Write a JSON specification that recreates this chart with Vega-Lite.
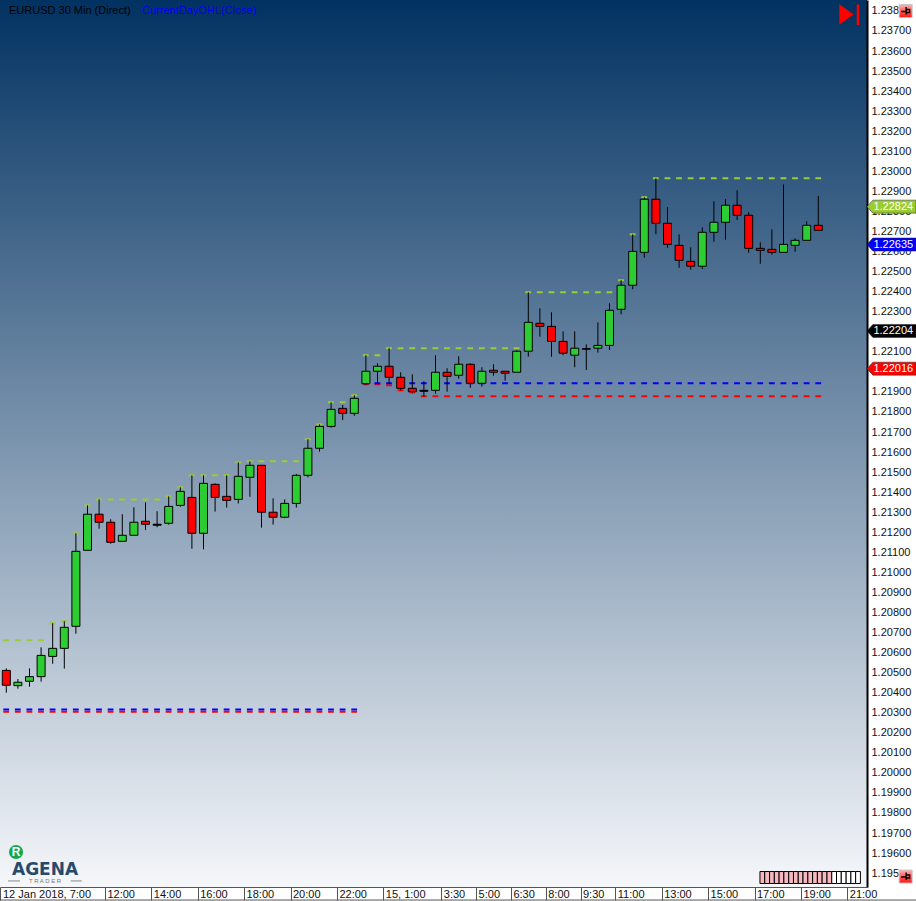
{
"$schema":"https://vega.github.io/schema/vega-lite/v6.json",
"width":867,"height":887,
"autosize":{"type":"none"},
"padding":{"left":0,"top":0,"right":49,"bottom":14},
"background":"#ffffff",
"view":{"stroke":null,"fill":{"gradient":"linear","x1":0,"y1":0,"x2":0,"y2":1,"stops":[{"offset":0,"color":"#023262"},{"offset":1,"color":"#f5f7fa"}]}},
"config":{"font":"Liberation Sans"},
"datasets":{
"candles":[
{"i":0,"o":1.20511,"h":1.20521,"l":1.20400,"c":1.20437},
{"i":1,"o":1.20435,"h":1.20468,"l":1.20420,"c":1.20452},
{"i":2,"o":1.20457,"h":1.20521,"l":1.20430,"c":1.20480},
{"i":3,"o":1.20480,"h":1.20626,"l":1.20455,"c":1.20586},
{"i":4,"o":1.20581,"h":1.20746,"l":1.20544,"c":1.20621},
{"i":5,"o":1.20621,"h":1.20756,"l":1.20520,"c":1.20726},
{"i":6,"o":1.20731,"h":1.21195,"l":1.20694,"c":1.21105},
{"i":7,"o":1.21110,"h":1.21334,"l":1.21110,"c":1.21290},
{"i":8,"o":1.21290,"h":1.21364,"l":1.21218,"c":1.21250},
{"i":9,"o":1.21250,"h":1.21265,"l":1.21143,"c":1.21150},
{"i":10,"o":1.21155,"h":1.21290,"l":1.21155,"c":1.21185},
{"i":11,"o":1.21185,"h":1.21324,"l":1.21185,"c":1.21250},
{"i":12,"o":1.21255,"h":1.21349,"l":1.21211,"c":1.21240},
{"i":13,"o":1.21240,"h":1.21305,"l":1.21225,"c":1.21235},
{"i":14,"o":1.21245,"h":1.21379,"l":1.21238,"c":1.21329},
{"i":15,"o":1.21334,"h":1.21424,"l":1.21327,"c":1.21404},
{"i":16,"o":1.21374,"h":1.21484,"l":1.21118,"c":1.21195},
{"i":17,"o":1.21195,"h":1.21484,"l":1.21115,"c":1.21444},
{"i":18,"o":1.21439,"h":1.21444,"l":1.21303,"c":1.21374},
{"i":19,"o":1.21379,"h":1.21484,"l":1.21323,"c":1.21359},
{"i":20,"o":1.21364,"h":1.21549,"l":1.21344,"c":1.21479},
{"i":21,"o":1.21474,"h":1.21554,"l":1.21377,"c":1.21534},
{"i":22,"o":1.21534,"h":1.21534,"l":1.21223,"c":1.21300},
{"i":23,"o":1.21300,"h":1.21369,"l":1.21238,"c":1.21275},
{"i":24,"o":1.21275,"h":1.21364,"l":1.21270,"c":1.21344},
{"i":25,"o":1.21344,"h":1.21491,"l":1.21323,"c":1.21484},
{"i":26,"o":1.21484,"h":1.21664,"l":1.21474,"c":1.21619},
{"i":27,"o":1.21619,"h":1.21738,"l":1.21602,"c":1.21728},
{"i":28,"o":1.21728,"h":1.21848,"l":1.21721,"c":1.21813},
{"i":29,"o":1.21818,"h":1.21835,"l":1.21760,"c":1.21793},
{"i":30,"o":1.21793,"h":1.21883,"l":1.21781,"c":1.21868},
{"i":31,"o":1.21941,"h":1.22083,"l":1.21936,"c":1.22003},
{"i":32,"o":1.22003,"h":1.22043,"l":1.21941,"c":1.22028},
{"i":33,"o":1.22028,"h":1.22118,"l":1.21939,"c":1.21973},
{"i":34,"o":1.21973,"h":1.21998,"l":1.21908,"c":1.21918},
{"i":35,"o":1.21918,"h":1.21988,"l":1.21893,"c":1.21901},
{"i":36,"o":1.21908,"h":1.21953,"l":1.21876,"c":1.21903},
{"i":37,"o":1.21908,"h":1.22083,"l":1.21891,"c":1.21998},
{"i":38,"o":1.21998,"h":1.22018,"l":1.21901,"c":1.21978},
{"i":39,"o":1.21983,"h":1.22078,"l":1.21966,"c":1.22038},
{"i":40,"o":1.22038,"h":1.22043,"l":1.21921,"c":1.21943},
{"i":41,"o":1.21943,"h":1.22023,"l":1.21926,"c":1.22003},
{"i":42,"o":1.22008,"h":1.22038,"l":1.21981,"c":1.21998},
{"i":43,"o":1.22003,"h":1.22003,"l":1.21956,"c":1.21993},
{"i":44,"o":1.21998,"h":1.22108,"l":1.21998,"c":1.22103},
{"i":45,"o":1.22103,"h":1.22397,"l":1.22076,"c":1.22247},
{"i":46,"o":1.22242,"h":1.22317,"l":1.22175,"c":1.22227},
{"i":47,"o":1.22227,"h":1.22297,"l":1.22076,"c":1.22152},
{"i":48,"o":1.22152,"h":1.22202,"l":1.22083,"c":1.22093},
{"i":49,"o":1.22083,"h":1.22202,"l":1.22023,"c":1.22118},
{"i":50,"o":1.22116,"h":1.22137,"l":1.22009,"c":1.22113},
{"i":51,"o":1.22118,"h":1.22247,"l":1.22096,"c":1.22132},
{"i":52,"o":1.22132,"h":1.22342,"l":1.22109,"c":1.22307},
{"i":53,"o":1.22312,"h":1.22457,"l":1.22287,"c":1.22432},
{"i":54,"o":1.22432,"h":1.22686,"l":1.22412,"c":1.22601},
{"i":55,"o":1.22596,"h":1.22871,"l":1.22569,"c":1.22861},
{"i":56,"o":1.22861,"h":1.22965,"l":1.22686,"c":1.22741},
{"i":57,"o":1.22741,"h":1.22821,"l":1.22619,"c":1.22636},
{"i":58,"o":1.22631,"h":1.22686,"l":1.22519,"c":1.22556},
{"i":59,"o":1.22551,"h":1.22621,"l":1.22510,"c":1.22527},
{"i":60,"o":1.22527,"h":1.22721,"l":1.22514,"c":1.22696},
{"i":61,"o":1.22696,"h":1.22851,"l":1.22649,"c":1.22746},
{"i":62,"o":1.22746,"h":1.22861,"l":1.22659,"c":1.22831},
{"i":63,"o":1.22831,"h":1.22906,"l":1.22757,"c":1.22781},
{"i":64,"o":1.22781,"h":1.22796,"l":1.22594,"c":1.22616},
{"i":65,"o":1.22616,"h":1.22646,"l":1.22539,"c":1.22606},
{"i":66,"o":1.22611,"h":1.22711,"l":1.22584,"c":1.22596},
{"i":67,"o":1.22596,"h":1.22935,"l":1.22596,"c":1.22636},
{"i":68,"o":1.22631,"h":1.22666,"l":1.22599,"c":1.22656},
{"i":69,"o":1.22656,"h":1.22751,"l":1.22656,"c":1.22731},
{"i":70,"o":1.22731,"h":1.22877,"l":1.22706,"c":1.22706}
],
"highs":[
{"from":0,"to":3,"level":1.20661},{"from":4,"to":4,"level":1.20746},{"from":5,"to":5,"level":1.20756},{"from":6,"to":6,"level":1.21195},{"from":7,"to":7,"level":1.21334},{"from":8,"to":13,"level":1.21364},{"from":14,"to":14,"level":1.21379},{"from":15,"to":15,"level":1.21424},{"from":16,"to":19,"level":1.21484},{"from":20,"to":20,"level":1.21549},{"from":21,"to":25,"level":1.21554},{"from":26,"to":26,"level":1.21664},{"from":27,"to":27,"level":1.21738},{"from":28,"to":29,"level":1.21848},{"from":30,"to":30,"level":1.21883},{"from":31,"to":32,"level":1.22083},{"from":33,"to":44,"level":1.22118},{"from":45,"to":52,"level":1.22397},{"from":53,"to":53,"level":1.22457},{"from":54,"to":54,"level":1.22686},{"from":55,"to":55,"level":1.22871},{"from":56,"to":70,"level":1.22965}
],
"opens":[{"from":0,"to":30,"level":1.20316},{"from":31,"to":70,"level":1.21943}],
"lows":[{"from":0,"to":30,"level":1.20305},{"from":31,"to":32,"level":1.21938},{"from":33,"to":33,"level":1.21933},{"from":34,"to":34,"level":1.21908},{"from":35,"to":35,"level":1.21898},{"from":36,"to":70,"level":1.21878}],
"tags":[{"price":1.22824,"kind":"high"},{"price":1.22635,"kind":"last"},{"price":1.22204,"kind":"bid"},{"price":1.22016,"kind":"low"}],
"pins":[{"p":1.237997},{"p":1.19483}],
"cells":[{"a":64.97,"b":65.38},{"a":65.38,"b":65.80},{"a":65.80,"b":66.21},{"a":66.21,"b":66.62},{"a":66.62,"b":67.03},{"a":67.03,"b":67.45},{"a":67.45,"b":67.86},{"a":67.86,"b":68.27},{"a":68.27,"b":68.68},{"a":68.68,"b":69.10},{"a":69.10,"b":69.51},{"a":69.51,"b":69.92},{"a":69.92,"b":70.33},{"a":70.33,"b":70.75},{"a":70.75,"b":71.16},{"a":71.16,"b":71.57},{"a":71.57,"b":71.98},{"a":71.98,"b":72.40},{"a":72.40,"b":72.81},{"a":72.81,"b":73.22},{"a":73.22,"b":73.63}]
},
"layer":[
{"data":{"name":"lows"},"mark":{"type":"rule","stroke":"#ff0000","strokeWidth":2,"strokeDash":[5.8,5.8],"xOffset":-3,"x2Offset":3},
 "encoding":{
 "x":{"field":"from","type":"quantitative","title":null,"scale":{"domain":[-0.5431,74.198],"nice":false,"zero":false,"padding":0},
  "axis":{"orient":"bottom","tickCount":40,"values":[-0.5,8.5,12.5,16.5,20.5,24.5,28.5,32.5,37.5,40.5,43.5,46.5,49.5,52.5,56.5,60.5,64.5,68.5,72.5],
   "labelExpr":"{'-0.5':'12 Jan 2018, 7:00','8.5':'12:00','12.5':'14:00','16.5':'16:00','20.5':'18:00','24.5':'20:00','28.5':'22:00','32.5':'15, 1:00','37.5':'3:30','40.5':'5:00','43.5':'6:30','46.5':'8:00','49.5':'9:30','52.5':'11:00','56.5':'13:00','60.5':'15:00','64.5':'17:00','68.5':'19:00','72.5':'21:00'}[''+datum.value]",
   "grid":false,"ticks":true,"tickSize":13,"tickColor":"#555555","tickWidth":1,"domain":true,"domainColor":"#555555","domainWidth":1,
   "labelAlign":"left","labelBaseline":"top","labelPadding":-12,"labelOffset":2,"labelFontSize":11,"labelColor":"#111111","labelFont":"Liberation Sans","labelOverlap":false,"labelFlush":false,"labelBound":false,"title":null}},
 "x2":{"field":"to"},
 "y":{"field":"level","type":"quantitative","title":null,"scale":{"domain":[1.194308,1.238546],"nice":false,"zero":false},
  "axis":{"orient":"right","tickCount":60,"values":[1.238,1.237,1.236,1.235,1.234,1.233,1.232,1.231,1.23,1.229,1.228,1.227,1.226,1.225,1.224,1.223,1.222,1.221,1.22,1.219,1.218,1.217,1.216,1.215,1.214,1.213,1.212,1.211,1.21,1.209,1.208,1.207,1.206,1.205,1.204,1.203,1.202,1.201,1.2,1.199,1.198,1.197,1.196,1.195],
   "labelExpr":"(datum.value>1.2379||datum.value<1.1951)?format(datum.value,'.3f'):format(datum.value,'.5f')",
   "grid":false,"ticks":false,"domain":true,"domainColor":"#000000","domainWidth":2,"labelPadding":4,"labelFontSize":11,"labelColor":"#111111","labelFont":"Liberation Sans","labelAlign":"left","labelOverlap":false,"labelFlush":false,"labelBound":false,"title":null}}
 }},
{"data":{"name":"opens"},"mark":{"type":"rule","stroke":"#0000ff","strokeWidth":2,"strokeDash":[5.8,5.8],"xOffset":-3,"x2Offset":3},
 "encoding":{"x":{"field":"from","type":"quantitative","title":null},"x2":{"field":"to"},"y":{"field":"level","type":"quantitative","title":null}}},
{"data":{"name":"highs"},"mark":{"type":"rule","stroke":"#9acd32","strokeWidth":2,"strokeDash":[5.8,5.8],"xOffset":-3,"x2Offset":3},
 "encoding":{"x":{"field":"from","type":"quantitative","title":null},"x2":{"field":"to"},"y":{"field":"level","type":"quantitative","title":null}}},
{"data":{"name":"candles"},"mark":{"type":"rule","stroke":"#000000","strokeWidth":1},
 "encoding":{"x":{"field":"i","type":"quantitative","title":null},"y":{"field":"h","type":"quantitative","title":null},"y2":{"field":"l"}}},
{"data":{"name":"candles"},"mark":{"type":"bar","size":8,"orient":"vertical","stroke":"#000000","strokeWidth":1},
 "encoding":{"x":{"field":"i","type":"quantitative","title":null},"y":{"field":"o","type":"quantitative","title":null},"y2":{"field":"c"},
 "fill":{"condition":[{"test":"abs(datum.c-datum.o)<0.00007","value":"#000000"},{"test":"datum.c>datum.o","value":"#2ecc33"}],"value":"#ff0000"}}},
{"data":{"name":"tags"},"mark":{"type":"point","filled":true,"opacity":1,"size":2401,"shape":"M-1 0L-0.76 -0.265L1 -0.265L1 0.265L-0.76 0.265Z","stroke":"#222222","strokeWidth":0.5},
 "encoding":{"x":{"datum":76.31,"type":"quantitative","title":null},"y":{"field":"price","type":"quantitative","title":null},
 "fill":{"field":"kind","type":"nominal","legend":null,"scale":{"domain":["high","last","bid","low"],"range":["#9acd32","#0000ff","#000000","#ff0000"]}}}},
{"data":{"name":"tags"},"mark":{"type":"text","align":"left","baseline":"middle","fontSize":11,"font":"Liberation Sans","color":"#ffffff"},
 "encoding":{"x":{"datum":74.75,"type":"quantitative","title":null},"y":{"field":"price","type":"quantitative","title":null},"text":{"field":"price","type":"quantitative","format":".5f"}}},
{"data":{"values":[{"label":"EURUSD 30 Min (Direct)"}]},"mark":{"type":"text","align":"left","baseline":"middle","fontSize":11,"font":"Liberation Sans","color":"#000000"},
 "encoding":{"x":{"datum":0.233,"type":"quantitative","title":null},"y":{"datum":1.238,"type":"quantitative","title":null},"text":{"field":"label"}}},
{"data":{"values":[{"label":"CurrentDayOHL(Close)"}]},"mark":{"type":"text","align":"left","baseline":"middle","fontSize":11,"font":"Liberation Sans","color":"#0000ee"},
 "encoding":{"x":{"datum":11.7,"type":"quantitative","title":null},"y":{"datum":1.238,"type":"quantitative","title":null},"text":{"field":"label"}}},
{"data":{"values":[{"p":1.237823}]},"mark":{"type":"point","filled":true,"opacity":1,"size":441,"shape":"M-0.7 -1L0.7 0L-0.7 1Z","fill":"#ff0000","stroke":"#333333","strokeWidth":0.5},
 "encoding":{"x":{"datum":72.43,"type":"quantitative","title":null},"y":{"field":"p","type":"quantitative","title":null}}},
{"data":{"values":[{"a":1.238322,"b":1.237299}]},"mark":{"type":"rule","stroke":"#ff0000","strokeWidth":2.5},
 "encoding":{"x":{"datum":73.42,"type":"quantitative","title":null},"y":{"field":"a","type":"quantitative","title":null},"y2":{"field":"b"}}},
{"data":{"name":"pins"},"mark":{"type":"point","filled":true,"opacity":1,"shape":"square","size":170,"stroke":"#c8c8c8","strokeWidth":1,"fill":{"gradient":"linear","x1":0,"y1":0,"x2":0,"y2":1,"stops":[{"offset":0,"color":"#ffb0b0"},{"offset":1,"color":"#ff1010"}]}},
 "encoding":{"x":{"datum":77.53,"type":"quantitative","title":null},"y":{"field":"p","type":"quantitative","title":null}}},
{"data":{"name":"pins"},"mark":{"type":"point","filled":false,"opacity":1,"size":100,"shape":"M-0.9 0.1L0.1 0.1M0.1 -0.8L0.1 0.7M0.1 -0.3L0.8 -0.3L0.8 0.3L0.1 0.3Z","stroke":"#000000","strokeWidth":1.4},
 "encoding":{"x":{"datum":77.53,"type":"quantitative","title":null},"y":{"field":"p","type":"quantitative","title":null}}},
{"data":{"name":"cells"},"mark":{"type":"rect","stroke":"#000000","strokeWidth":1},
 "encoding":{"x":{"field":"a","type":"quantitative","title":null},"x2":{"field":"b"},"y":{"datum":1.19508,"type":"quantitative","title":null},"y2":{"datum":1.194482},
 "fill":{"condition":{"test":"datum.a<71.1","value":"#f6b8c0"},"value":"#ffffff"}}},
{"data":{"values":[{"p":1.196053}]},"mark":{"type":"point","filled":true,"opacity":1,"shape":"circle","size":200,"fill":"#12a84e"},
 "encoding":{"x":{"datum":0.84,"type":"quantitative","title":null},"y":{"field":"p","type":"quantitative","title":null}}},
{"data":{"values":[{"label":"R"}]},"mark":{"type":"text","align":"center","baseline":"middle","fontSize":12,"fontWeight":"bold","font":"Liberation Sans","color":"#ffffff"},
 "encoding":{"x":{"datum":0.84,"type":"quantitative","title":null},"y":{"datum":1.196053,"type":"quantitative","title":null},"text":{"field":"label"}}},
{"data":{"values":[{"label":"AGENA"}]},"mark":{"type":"text","align":"center","baseline":"middle","fontSize":17,"fontWeight":"bold","font":"DejaVu Sans","color":"#27496d"},
 "encoding":{"x":{"datum":3.34,"type":"quantitative","title":null},"y":{"datum":1.19518,"type":"quantitative","title":null},"text":{"field":"label"}}},
{"data":{"values":[{"label":"T R A D E R"}]},"mark":{"type":"text","align":"center","baseline":"middle","fontSize":6,"font":"Liberation Sans","color":"#777777"},
 "encoding":{"x":{"datum":3.34,"type":"quantitative","title":null},"y":{"datum":1.19461,"type":"quantitative","title":null},"text":{"field":"label"}}},
{"data":{"values":[{"a":0.15,"b":1.18},{"a":5.55,"b":6.5}]},"mark":{"type":"rule","stroke":"#888888","strokeWidth":1},
 "encoding":{"x":{"field":"a","type":"quantitative","title":null},"x2":{"field":"b"},"y":{"datum":1.19461,"type":"quantitative","title":null}}},
{"data":{"values":[{"a":-0.54,"b":78.5}]},"mark":{"type":"rule","stroke":"#555555","strokeWidth":1},
 "encoding":{"x":{"field":"a","type":"quantitative","title":null},"x2":{"field":"b"},"y":{"datum":1.193658,"type":"quantitative","title":null}}}
]
}
